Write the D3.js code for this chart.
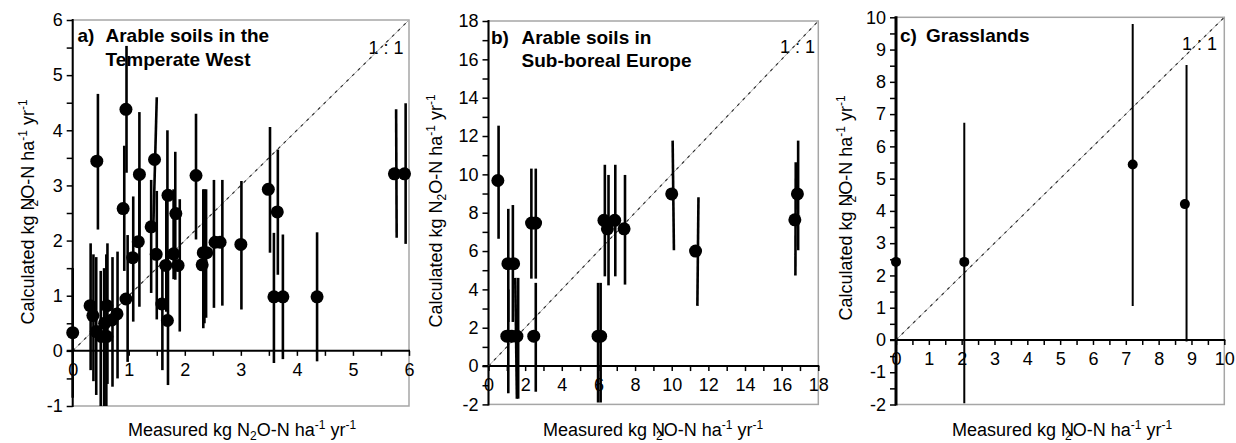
<!DOCTYPE html>
<html><head><meta charset="utf-8">
<script src="https://cdn.jsdelivr.net/npm/d3@7"></script>
<style>body{margin:0;background:#fff}svg{display:block}text{font-family:"Liberation Sans",Arial,sans-serif;fill:#000}</style>
</head><body>
<svg id="chart" width="1236" height="443"></svg>
<script>
// ---------- Panel a: Arable soils in the Temperate West ----------
const aMeasured   = [0.00,0.31,0.36,0.42,0.51,0.57,0.61,0.61,0.70,0.79,0.95,0.90,0.95,0.43,1.19,1.17,1.07,1.40,1.46,1.49,1.59,1.66,1.69,1.70,1.80,1.84,1.88,2.20,2.31,2.33,2.39,2.54,2.63,3.00,3.49,3.65,3.59,3.75,4.36,5.74,5.92];
const aCalculated = [0.33,0.82,0.64,0.35,0.26,0.50,0.82,0.26,0.56,0.67,0.94,2.58,4.38,3.44,3.20,1.98,1.69,2.25,3.47,1.75,0.85,1.55,0.55,2.82,1.76,2.49,1.55,3.18,1.56,1.78,1.78,1.97,1.97,1.93,2.93,2.52,0.98,0.98,0.98,3.21,3.21];
const aLow        = [-0.85,-0.35,-0.55,-0.80,-1.00,-1.00,-0.60,-1.00,-0.65,-0.50,-0.20,1.45,3.23,2.20,2.00,0.80,0.53,1.05,2.30,0.57,-0.35,0.71,-0.62,1.60,1.30,1.29,0.35,2.02,0.41,0.50,0.60,0.78,0.82,0.75,1.78,1.38,-0.22,-0.15,-0.19,2.05,1.94];
const aHigh       = [1.50,1.95,1.75,1.70,1.45,1.50,1.95,1.75,1.70,1.80,2.10,3.72,5.53,4.66,4.33,3.20,2.80,3.10,4.60,2.90,1.60,2.90,1.70,4.00,2.93,3.61,2.75,4.30,2.93,2.93,2.93,3.10,3.10,3.08,4.06,3.65,2.14,2.11,2.15,4.38,4.49];
const aBarXLow    = [0.00,0.32,0.37,0.42,0.50,0.56,0.62,0.60,0.71,0.80,0.98,0.92,0.96,0.45,1.19,1.19,1.08,1.40,1.44,1.50,1.60,1.67,1.70,1.69,1.80,1.83,1.91,2.20,2.33,2.35,2.38,2.52,2.67,3.01,3.52,3.66,3.59,3.75,4.36,5.78,5.94];
const aBarXHigh   = [0.00,0.32,0.37,0.42,0.50,0.56,0.62,0.60,0.71,0.80,0.98,0.92,0.96,0.45,1.19,1.19,1.08,1.40,1.50,1.50,1.60,1.67,1.70,1.69,1.80,1.83,1.91,2.20,2.33,2.35,2.38,2.52,2.67,3.01,3.52,3.66,3.59,3.75,4.36,5.77,5.94];
const aXTickLabels = [0,1,2,3,4,5,6];
const aYTickLabels = [-1,0,1,2,3,4,5,6];

// ---------- Panel b: Arable soils in Sub-boreal Europe ----------
const bMeasured   = [0.51,1.06,1.37,1.00,1.28,1.55,2.35,2.57,2.47,5.98,6.12,6.30,6.49,6.89,7.40,10.00,11.30,16.72,16.86];
const bCalculated = [9.68,5.34,5.34,1.56,1.56,1.56,7.46,7.46,1.56,1.56,1.56,7.60,7.16,7.60,7.16,8.98,6.00,7.63,8.98];
const bLow        = [6.64,2.30,2.30,-1.42,-1.70,-1.70,4.56,4.56,-1.34,-1.90,-1.90,4.68,4.21,4.68,4.25,6.04,3.14,4.73,6.04];
const bHigh       = [12.54,8.20,8.40,4.00,4.60,4.60,10.30,10.30,4.34,4.34,4.34,10.50,9.97,10.50,9.97,11.76,8.81,10.63,11.76];
const bBarXLow    = [0.55,1.08,1.33,1.08,1.55,1.62,2.34,2.58,2.58,5.98,6.12,6.35,6.55,6.92,7.45,10.12,11.40,16.75,16.90];
const bBarXHigh   = [0.55,1.08,1.33,1.08,1.46,1.62,2.34,2.58,2.58,5.98,6.12,6.35,6.55,6.92,7.45,10.05,11.46,16.77,16.90];
const bXTickLabels = [0,2,4,6,8,10,12,14,16,18];
const bYTickLabels = [-2,0,2,4,6,8,10,12,14,16,18];

// ---------- Panel c: Grasslands ----------
const cMeasured   = [0.00,2.08,7.21,8.80];
const cCalculated = [2.42,2.42,5.44,4.21];
const cLow        = [2.42,-1.96,1.05,-0.05];
const cHigh       = [2.42,6.73,9.79,8.52];
const cBarXLow    = [0.00,2.08,7.21,8.85];
const cBarXHigh   = [0.00,2.08,7.21,8.85];
const cXTickLabels = [0,1,2,3,4,5,6,7,8,9,10];
const cYTickLabels = [-2,-1,0,1,2,3,4,5,6,7,8,9,10];

const panels = [
  {meas:aMeasured, calc:aCalculated, lo:aLow, hi:aHigh, bxl:aBarXLow, bxh:aBarXHigh,
   xLabels:aXTickLabels, yLabels:aYTickLabels, xStep:0.5, yStep:0.5,
   left:72.7, right:409, top:20, bottom:406, r:6.5, barW:2.6, axisW:2,
   title:{tag:"a)", lines:["Arable soils in the","Temperate West"], tagX:77.5, x:105.5, y:42, dy:24},
   one:{x:403.5, y:54}, ylab:{x:34, y:212, overlap:true}, xlab:{x:242, y:436, overlap:false}},
  {meas:bMeasured, calc:bCalculated, lo:bLow, hi:bHigh, bxl:bBarXLow, bxh:bBarXHigh,
   xLabels:bXTickLabels, yLabels:bYTickLabels, xStep:1, yStep:1,
   left:488.5, right:818.3, top:21, bottom:404.4, r:6.5, barW:2.6, axisW:2,
   title:{tag:"b)", lines:["Arable soils in","Sub-boreal Europe"], tagX:491, x:521.5, y:44, dy:23},
   one:{x:815, y:53}, ylab:{x:441.5, y:211, overlap:false}, xlab:{x:653, y:436, overlap:true}},
  {meas:cMeasured, calc:cCalculated, lo:cLow, hi:cHigh, bxl:cBarXLow, bxh:cBarXHigh,
   xLabels:cXTickLabels, yLabels:cYTickLabels, xStep:0.5, yStep:0.5,
   left:896, right:1224.3, top:17.3, bottom:404.5, r:5, barW:2, axisW:3,
   title:{tag:"c)", lines:["Grasslands"], tagX:900, x:926, y:42, dy:23},
   one:{x:1217, y:50}, ylab:{x:852, y:208, overlap:true}, xlab:{x:1062, y:436, overlap:true}}
];

const svg = d3.select("#chart");

function unitLabel(sel, pre, overlap) {
  // pre + N2O-N ha-1 yr-1
  sel.append("tspan").text(pre + "N");
  if (overlap) {
    sel.append("tspan").attr("font-size", 12).attr("dx", -9).attr("dy", 4).text("2");
    sel.append("tspan").attr("dy", -4).attr("dx", 1).text("O-N ha");
  } else {
    sel.append("tspan").attr("font-size", 12).attr("dy", 4).text("2");
    sel.append("tspan").attr("dy", -4).text("O-N ha");
  }
  sel.append("tspan").attr("font-size", 12).attr("dy", -7).text("-1");
  sel.append("tspan").attr("dy", 7).text(" yr");
  sel.append("tspan").attr("font-size", 12).attr("dy", -7).text("-1");
}

panels.forEach(p => {
  const xMax = d3.max(p.xLabels), yMin = d3.min(p.yLabels), yMax = d3.max(p.yLabels);
  const x = d3.scaleLinear().domain([0, xMax]).range([p.left, p.right]);
  const y = d3.scaleLinear().domain([yMin, yMax]).range([p.bottom, p.top]);
  const g = svg.append("g");

  // frame
  g.append("rect").attr("x", p.left).attr("y", p.top)
    .attr("width", p.right - p.left).attr("height", p.bottom - p.top)
    .attr("fill", "none").attr("stroke", "#a6a6a6").attr("stroke-width", 1.5);

  // titles
  const t = g.append("g").attr("font-weight", "bold").attr("font-size", 19);
  t.append("text").attr("x", p.title.tagX).attr("y", p.title.y).text(p.title.tag);
  p.title.lines.forEach((ln, i) => {
    t.append("text").attr("x", p.title.x).attr("y", p.title.y + i * p.title.dy).text(ln);
  });
  g.append("text").attr("x", p.one.x).attr("y", p.one.y).attr("text-anchor", "end")
    .attr("font-size", 18).text("1 : 1");

  // y axis
  const yTickVals = d3.range(yMin, yMax + 1e-9, p.yStep);
  const yAxis = d3.axisLeft(y).tickValues(yTickVals).tickSize(6).tickPadding(4)
    .tickFormat(d => p.yLabels.includes(d) ? String(d) : "");
  const ya = g.append("g").attr("transform", `translate(${p.left},0)`).call(yAxis);
  ya.select(".domain").remove();
  ya.selectAll(".tick line").attr("stroke", "#000").attr("stroke-width", 1.5);
  ya.selectAll(".tick text").attr("font-size", 18).attr("font-family", "Liberation Sans, Arial, sans-serif");
  g.append("line").attr("x1", p.left).attr("x2", p.left).attr("y1", p.top - 1).attr("y2", p.bottom + 1)
    .attr("stroke", "#000").attr("stroke-width", p.axisW);

  // x axis at y = 0
  const xTickVals = d3.range(0, xMax + 1e-9, p.xStep);
  const xAxis = d3.axisBottom(x).tickValues(xTickVals).tickSize(5).tickPadding(7)
    .tickFormat(d => p.xLabels.includes(d) ? String(d) : "");
  const xa = g.append("g").attr("transform", `translate(0,${y(0)})`).call(xAxis);
  xa.select(".domain").remove();
  xa.selectAll(".tick line").attr("stroke", "#000").attr("stroke-width", 1.5);
  xa.selectAll(".tick text").attr("font-size", 18).attr("font-family", "Liberation Sans, Arial, sans-serif");
  g.append("line").attr("x1", p.left - 6).attr("x2", p.right + 1).attr("y1", y(0)).attr("y2", y(0))
    .attr("stroke", "#000").attr("stroke-width", 2);

  // axis titles
  const yl = g.append("text").attr("font-size", 18).attr("text-anchor", "middle")
    .attr("transform", `translate(${p.ylab.x},${p.ylab.y}) rotate(-90)`);
  unitLabel(yl, "Calculated kg ", p.ylab.overlap);
  const xl = g.append("text").attr("font-size", 18).attr("text-anchor", "middle")
    .attr("x", p.xlab.x).attr("y", p.xlab.y);
  unitLabel(xl, "Measured kg ", p.xlab.overlap);

  // 1:1 line
  g.append("line").attr("x1", x(0)).attr("y1", y(0)).attr("x2", x(xMax)).attr("y2", y(xMax))
    .attr("stroke", "#b0b0b0").attr("stroke-width", 1);
  g.append("line").attr("x1", x(0)).attr("y1", y(0)).attr("x2", x(xMax)).attr("y2", y(xMax))
    .attr("stroke", "#000").attr("stroke-width", 1.2).attr("stroke-dasharray", "3,5").attr("opacity", 0.75);

  // error bars
  const idx = d3.range(p.meas.length);
  g.append("g").selectAll("line").data(idx).join("line")
    .attr("x1", i => x(p.bxl[i])).attr("y1", i => y(p.lo[i]))
    .attr("x2", i => x(p.bxh[i])).attr("y2", i => y(p.hi[i]))
    .attr("stroke", "#000").attr("stroke-width", p.barW);

  // points
  g.append("g").selectAll("circle").data(idx).join("circle")
    .attr("cx", i => x(p.meas[i])).attr("cy", i => y(p.calc[i])).attr("r", p.r)
    .attr("fill", "#000");
});
</script>
</body></html>
